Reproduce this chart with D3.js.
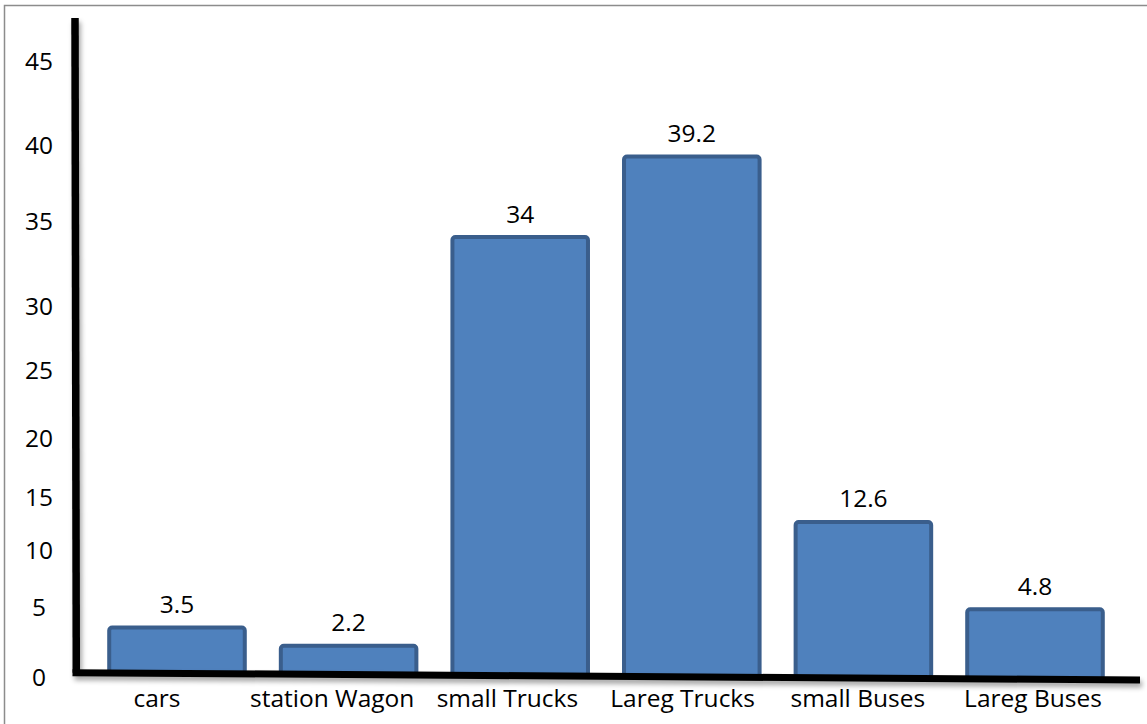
<!DOCTYPE html>
<html>
<head>
<meta charset="utf-8">
<script src="https://cdn.jsdelivr.net/npm/d3@7"></script>
<style>
  body { margin: 0; background: #fff; }
  text { font-family: "Open Sans", "Noto Sans", sans-serif; fill: #000; }
</style>
</head>
<body>
<div id="chart-area"></div>
<script>
// vehicle types and their values
var categories = ["cars", "station Wagon", "small Trucks", "Lareg Trucks", "small Buses", "Lareg Buses"];
var values = [3.5, 2.2, 34, 39.2, 12.6, 4.8];
var valueLabels = ["3.5", "2.2", "34", "39.2", "12.6", "4.8"];
var yTicks = [0, 5, 10, 15, 20, 25, 30, 35, 40, 45];

var width = 1147, height = 724;
var fontSize = "24.5px";

var svg = d3.select("#chart-area")
    .append("svg")
    .attr("width", width)
    .attr("height", height);

var defs = svg.append("defs");
var shadow = defs.append("filter")
    .attr("id", "shadow")
    .attr("x", "-5%").attr("y", "-50%")
    .attr("width", "110%").attr("height", "300%");
shadow.append("feDropShadow")
    .attr("dx", 2).attr("dy", 4)
    .attr("stdDeviation", 2.5)
    .attr("flood-color", "#000")
    .attr("flood-opacity", 0.35);

// outer frame (cropped at right/bottom)
svg.append("rect")
    .attr("x", 4.5).attr("y", 5.5)
    .attr("width", 1200).attr("height", 800)
    .attr("fill", "none")
    .attr("stroke", "#8c8c8c")
    .attr("stroke-width", 1.5);

// the y scale of the original is hand spaced, so follow its tick positions
var y = d3.scaleLinear()
    .domain(yTicks)
    .range([676.5, 606.5, 549.5, 496.5, 437.5, 369, 305, 220, 144.5, 60]);

var x = d3.scaleBand()
    .domain(categories)
    .range([91.2, 1120.8])
    .paddingInner(0.21)
    .paddingOuter(0.105);

var xLabel = d3.scalePoint()
    .domain(categories)
    .range([157, 1033]);

// the x axis line is slightly tilted
var baseline = d3.scaleLinear()
    .domain([73, 1140])
    .range([672.7, 680]);

// y tick labels
svg.selectAll(".ytick")
    .data(yTicks)
    .enter()
    .append("text")
    .attr("class", "ytick")
    .attr("x", 39)
    .attr("y", function(d){ return y(d); })
    .attr("text-anchor", "middle")
    .attr("dominant-baseline", "central")
    .attr("font-size", fontSize)
    .text(function(d){ return d; });

// bars
svg.selectAll(".bar")
    .data(values)
    .enter()
    .append("rect")
    .attr("class", "bar")
    .attr("x", function(d, i){ return x(categories[i]); })
    .attr("width", x.bandwidth())
    .attr("y", function(d){ return y(d); })
    .attr("height", function(d, i){
        return baseline(x(categories[i]) + x.bandwidth() / 2) - y(d);
    })
    .attr("rx", 3)
    .attr("fill", "#4f81bd")
    .attr("stroke", "#3a5e8c")
    .attr("stroke-width", 4);

// value labels
svg.selectAll(".vlabel")
    .data(values)
    .enter()
    .append("text")
    .attr("class", "vlabel")
    .attr("x", function(d, i){ return x(categories[i]) + x.bandwidth() / 2; })
    .attr("y", function(d){ return y(d) - 24; })
    .attr("text-anchor", "middle")
    .attr("dominant-baseline", "central")
    .attr("font-size", fontSize)
    .text(function(d, i){ return valueLabels[i]; });

// axes lines
var axes = svg.append("g").attr("filter", "url(#shadow)");
axes.append("line")
    .attr("x1", 75).attr("y1", 18)
    .attr("x2", 76.3).attr("y2", 672.7)
    .attr("stroke", "#000")
    .attr("stroke-width", 7.5);
axes.append("line")
    .attr("x1", 72.5).attr("y1", baseline(72.5))
    .attr("x2", 1140).attr("y2", baseline(1140))
    .attr("stroke", "#000")
    .attr("stroke-width", 7);

// category labels
svg.selectAll(".xlabel")
    .data(categories)
    .enter()
    .append("text")
    .attr("class", "xlabel")
    .attr("x", function(d){ return xLabel(d); })
    .attr("y", 707)
    .attr("text-anchor", "middle")
    .attr("font-size", fontSize)
    .text(function(d){ return d; });
</script>
</body>
</html>
